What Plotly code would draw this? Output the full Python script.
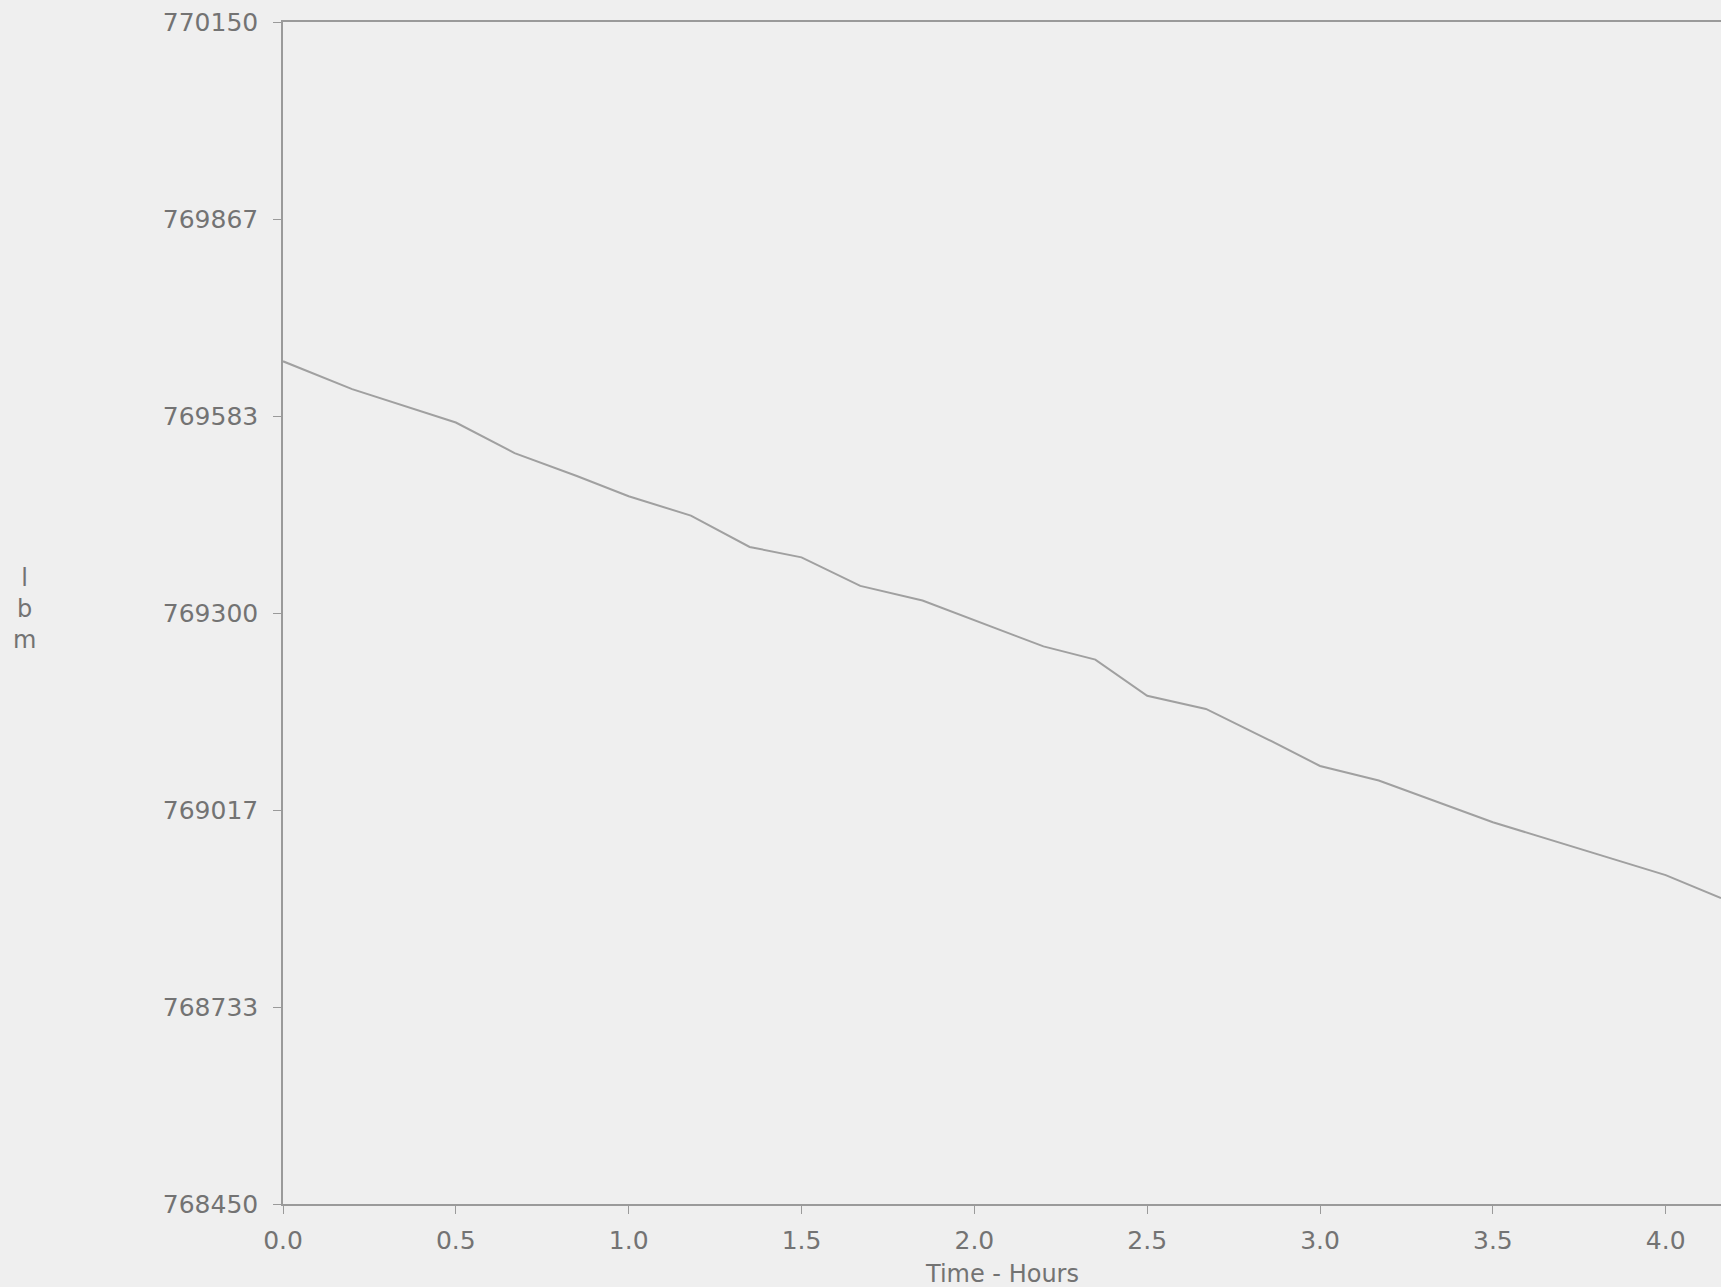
import plotly.graph_objects as go

# Data
time_hours = [0.0, 0.2, 0.5, 0.67, 0.85, 1.0, 1.18, 1.35, 1.5, 1.67, 1.85, 2.0,
              2.2, 2.35, 2.5, 2.67, 2.85, 3.0, 3.17, 3.5, 4.0, 4.16]
mass_lbm = [769662, 769622, 769574, 769530, 769497, 769468, 769440, 769395, 769380,
            769339, 769318, 769290, 769252, 769233, 769181, 769162, 769118, 769080,
            769059, 768999, 768923, 768890]

y_tick_vals = [768450, 768450 + 1700/6, 768450 + 2*1700/6, 769300,
               768450 + 4*1700/6, 768450 + 5*1700/6, 770150]
y_tick_text = ["768450", "768733", "769017", "769300", "769583", "769867", "770150"]
x_tick_vals = [0.0, 0.5, 1.0, 1.5, 2.0, 2.5, 3.0, 3.5, 4.0]
x_tick_text = ["0.0", "0.5", "1.0", "1.5", "2.0", "2.5", "3.0", "3.5", "4.0"]

bg = "#efefef"
axis_col = "#9a9a9a"
text_col = "#737373"
font_fam = "DejaVu Sans, Liberation Sans, Arial, sans-serif"

fig = go.Figure()
fig.add_trace(go.Scatter(x=time_hours, y=mass_lbm, mode="lines",
                         line=dict(color="#a0a0a0", width=2), showlegend=False))

fig.update_layout(
    width=1721, height=1287,
    paper_bgcolor=bg, plot_bgcolor=bg,
    margin=dict(l=283, r=0, t=22, b=83),
    font=dict(family=font_fam, size=25, color=text_col),
    xaxis=dict(range=[0, 4.16], tickvals=x_tick_vals, ticktext=x_tick_text,
               showgrid=False, zeroline=False, showline=True, linecolor=axis_col,
               linewidth=1.5, mirror=True, ticks="outside", ticklen=8, tickwidth=1,
               tickcolor=axis_col, ticklabelstandoff=5,
               tickfont=dict(family=font_fam, size=25, color=text_col)),
    yaxis=dict(range=[768450, 770150], tickvals=y_tick_vals, ticktext=y_tick_text,
               showgrid=False, zeroline=False, showline=True, linecolor=axis_col,
               linewidth=1.5, ticks="outside", ticklen=8, tickwidth=1,
               tickcolor=axis_col, ticklabelstandoff=10,
               tickfont=dict(family=font_fam, size=25, color=text_col)),
    annotations=[
        dict(text="Time - Hours", xref="paper", yref="paper", x=(1002-283)/(1721-283),
             y=0, yshift=-70, showarrow=False, xanchor="center", yanchor="middle",
             font=dict(family=font_fam, size=24, color=text_col)),
        dict(text="l<br>b<br>m", xref="paper", yref="paper", x=0, xshift=-259,
             y=(1204-609)/(1204-22), showarrow=False, xanchor="center", yanchor="middle",
             align="center", font=dict(family=font_fam, size=24, color=text_col)),
    ],
)

fig.write_html("out.html",
               config={"displayModeBar": False},
               post_script="document.body.style.margin='0';"
                           "document.body.style.background='#efefef';"
                           "document.body.style.overflow='hidden';")
